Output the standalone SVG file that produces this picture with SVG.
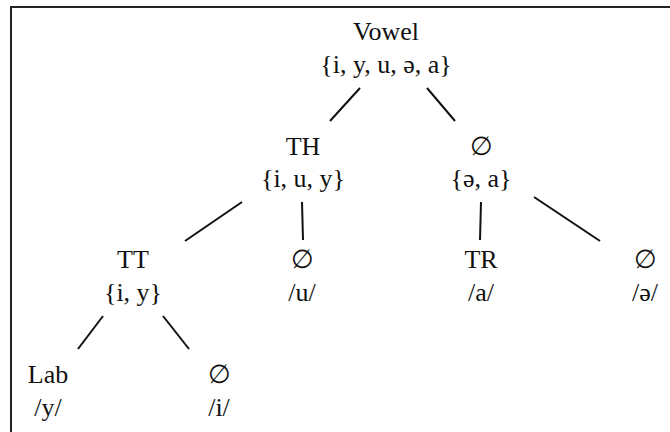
<svg xmlns="http://www.w3.org/2000/svg" width="670" height="432" viewBox="0 0 670 432">
  <style>
    text { font-family: "Liberation Serif", "Times New Roman", serif; font-size: 26px; fill: #111; text-anchor: middle; }
    .edge { stroke: #111; stroke-width: 2; fill: none; stroke-linecap: butt; }
    .frame { stroke: #222; stroke-width: 2; fill: none; }
  </style>
  <rect width="670" height="432" fill="#fff"/>
  <!-- frame: only top and left edges are visible -->
  <path class="frame" d="M11,440 V7 H680"/>

  <g id="connectors">
    <line class="edge" x1="360" y1="88" x2="330" y2="121"/>
    <line class="edge" x1="427" y1="88" x2="455" y2="121"/>
    <line class="edge" x1="242" y1="202" x2="185" y2="241"/>
    <line class="edge" x1="302" y1="202" x2="303" y2="240"/>
    <line class="edge" x1="481" y1="202" x2="480" y2="240"/>
    <line class="edge" x1="534" y1="197" x2="600" y2="241"/>
    <line class="edge" x1="103" y1="316" x2="78" y2="349"/>
    <line class="edge" x1="163" y1="316" x2="189" y2="349"/>
  </g>

  <g id="vowel">
    <text x="386" y="40">Vowel</text>
    <text x="386" y="73">{i, y, u, ə, a}</text>
  </g>
  <g id="th">
    <text x="303" y="155">TH</text>
    <text x="303" y="187">{i, u, y}</text>
  </g>
  <g id="null-ea">
    <text x="481" y="155">∅</text>
    <text x="481" y="187">{ə, a}</text>
  </g>
  <g id="tt">
    <text x="133" y="268">TT</text>
    <text x="133" y="301">{i, y}</text>
  </g>
  <g id="null-u">
    <text x="302" y="268">∅</text>
    <text x="302" y="301">/u/</text>
  </g>
  <g id="tr">
    <text x="481" y="268">TR</text>
    <text x="481" y="301">/a/</text>
  </g>
  <g id="null-schwa">
    <text x="645" y="268">∅</text>
    <text x="645" y="301">/ə/</text>
  </g>
  <g id="lab">
    <text x="48" y="383">Lab</text>
    <text x="48" y="416">/y/</text>
  </g>
  <g id="null-i">
    <text x="219" y="383">∅</text>
    <text x="219" y="416">/i/</text>
  </g>
</svg>
